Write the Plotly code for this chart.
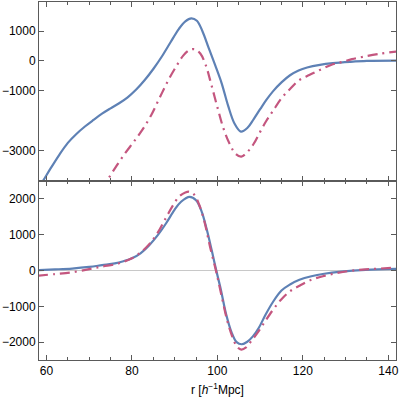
import plotly.graph_objects as go
from plotly.subplots import make_subplots

# upper panel
r_top_blue = [58.0, 59.3, 61, 63, 65, 67, 69, 71, 73, 75, 77, 79, 81, 83, 85, 87, 89, 91, 92.5, 93.9,
              95.2, 96.5, 98, 99.5, 101, 102.5, 104, 105.5, 107, 108.5, 110, 111.5, 113, 115, 117,
              119, 121, 124, 127, 131, 135, 142]
v_top_blue = [-4300, -4000, -3600, -3150, -2750, -2450, -2200, -1980, -1770, -1590, -1420, -1220,
              -960, -640, -270, 150, 620, 1080, 1330, 1430, 1350, 1000, 420, -150, -750, -1500,
              -2100, -2370, -2250, -1950, -1620, -1300, -1020, -720, -480, -320, -220, -130, -75,
              -30, 0, 10]

r_top_red = [73.0, 74.5, 76.5, 78.5, 80.5, 82.5, 84.5, 86.5, 88.5, 90.5, 92, 93.5, 94.8, 96, 97.3,
             98.5, 100, 101.5, 103, 104.3, 105.6, 107, 108.5, 110, 111.5, 113, 115, 117, 119, 121.5,
             124, 126.6, 129, 131.5, 134.3, 138, 142]
v_top_red = [-4350, -3950, -3500, -3080, -2700, -2300, -1820, -1230, -650, -150, 180, 370, 390, 250,
             -150, -750, -1550, -2300, -2820, -3120, -3210, -3060, -2780, -2380, -2000, -1680,
             -1250, -940, -660, -470, -300, -134, -40, 60, 145, 240, 320]

# lower panel
r_bot_blue = [58, 62, 66, 70, 73, 76, 78, 80, 82, 84, 86, 88, 90, 91.5, 93.5, 95, 96.3, 97.5, 98.7,
              99.7, 100.8, 102, 103.3, 104.5, 105.7, 107, 108.3, 109.7, 111.2, 113, 115, 117, 119.2,
              122, 125, 129, 134.7, 142]
v_bot_blue = [10, 30, 55, 100, 150, 200, 260, 340, 480, 700, 980, 1320, 1700, 1920, 2055, 1960,
              1650, 1150, 550, 20, -530, -1200, -1720, -2000, -2060, -1990, -1840, -1600, -1250,
              -880, -560, -390, -260, -160, -90, -30, 20, 47]

r_bot_red = [58, 62, 66, 70, 73, 76, 78, 80, 82, 84, 86, 88, 89.5, 91, 92.5, 93.5, 94.5, 95.7, 97,
             98.3, 99.7, 101, 102.3, 103.5, 104.6, 105.6, 106.7, 108, 109.5, 111, 113, 115, 117,
             119.2, 122, 125, 128, 131, 134.7, 142]
v_bot_red = [-145, -100, -50, 40, 110, 170, 240, 340, 500, 730, 1050, 1480, 1800, 2060, 2180, 2200,
             2130, 1850, 1350, 650, -20, -720, -1400, -1850, -2130, -2210, -2150, -1960, -1720,
             -1450, -1100, -800, -580, -427, -260, -150, -70, -10, 30, 80]

x_ticks = [60, 80, 100, 120, 140]
top_ticks = [1000, 0, -1000, -3000]
bot_ticks = [2000, 1000, 0, -1000, -2000]


def lab(v):
    return str(v).replace("-", "\u2212")


blue = "#5E81B5"
red = "#C4567F"
frame = "#5a5a5a"
dashdot = "10px,5px,2px,5px"

fig = make_subplots(rows=2, cols=1, shared_xaxes=True, vertical_spacing=0)

fig.add_trace(go.Scatter(x=r_top_blue, y=v_top_blue, mode="lines", line_shape="spline",
                         line=dict(color=blue, width=2.2)), row=1, col=1)
fig.add_trace(go.Scatter(x=r_top_red, y=v_top_red, mode="lines", line_shape="spline",
                         line=dict(color=red, width=2.2, dash=dashdot)), row=1, col=1)
fig.add_trace(go.Scatter(x=r_bot_blue, y=v_bot_blue, mode="lines", line_shape="spline",
                         line=dict(color=blue, width=2.2)), row=2, col=1)
fig.add_trace(go.Scatter(x=r_bot_red, y=v_bot_red, mode="lines", line_shape="spline",
                         line=dict(color=red, width=2.2, dash=dashdot)), row=2, col=1)

fig.update_layout(width=399, height=397, showlegend=False,
                  margin=dict(l=39, r=3, t=2, b=37),
                  plot_bgcolor="white", paper_bgcolor="white",
                  font=dict(family="Liberation Sans, Arial, sans-serif", size=12, color="black"))

fig.update_xaxes(range=[58.25, 141.8], tickvals=x_ticks, ticktext=[str(t) for t in x_ticks],
                 ticks="inside", ticklen=5, tickcolor=frame, showline=True, linecolor=frame,
                 linewidth=1, mirror="allticks", showgrid=False, zeroline=False, automargin=False,
                 minor=dict(dtick=5, tick0=0, ticks="inside", ticklen=3, tickcolor=frame))

fig.update_yaxes(range=[-4030, 1980], tickvals=top_ticks, ticktext=[lab(t) for t in top_ticks],
                 row=1, col=1)
fig.update_yaxes(range=[-2500, 2500], tickvals=bot_ticks, ticktext=[lab(t) for t in bot_ticks],
                 zeroline=True, zerolinecolor="#c8c8c8", zerolinewidth=1, row=2, col=1)
fig.update_yaxes(ticks="inside", ticklen=5, tickcolor=frame, showline=True, linecolor=frame,
                 linewidth=1, mirror="allticks", showgrid=False, automargin=False)
fig.update_yaxes(zeroline=False, row=1, col=1)

fig.add_annotation(text="r [<i>h</i><sup>\u22121</sup>Mpc]", xref="paper", yref="paper",
                   x=0.5, y=0, yshift=-29, yanchor="middle", showarrow=False,
                   font=dict(size=12))

# page body has a default 8px margin; drop it so the figure fills the window
fig.write_html("out.html", config={"displayModeBar": False},
               post_script="document.body.style.margin='0';")
